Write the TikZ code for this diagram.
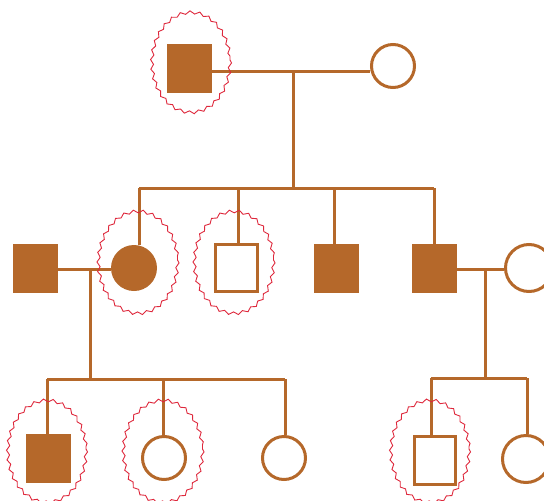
\documentclass[tikz,border=0pt]{standalone}
\usetikzlibrary{decorations.pathmorphing}
\definecolor{brn}{RGB}{181,104,42}
\definecolor{wav}{RGB}{222,40,60}
\begin{document}
\begin{tikzpicture}[x=1pt,y=-1pt,
  fsq/.style={rectangle,fill=brn,minimum width=45pt,minimum height=49pt,inner sep=0pt,outer sep=0pt},
  osq/.style={rectangle,draw=brn,line width=3pt,fill=white,minimum width=42pt,minimum height=47pt,inner sep=0pt,outer sep=1.5pt},
  fci/.style={circle,fill=brn,minimum size=46pt,inner sep=0pt,outer sep=0pt},
  oci/.style={circle,draw=brn,line width=3pt,fill=white,minimum size=43pt,inner sep=0pt,outer sep=1.5pt},
  oci2/.style={oci,minimum size=47pt},
  link/.style={draw=brn,line width=3pt},
  halo/.style={draw=wav,line width=0.9pt,decorate,decoration={snake,amplitude=1.5pt,segment length=9.5pt}}]
\useasboundingbox (0,0) rectangle (544,501);
\clip (0,0) rectangle (544,501);
% generation 1
\node[fsq] (a) at (189.5,68.5) {};
\node[oci] (b) at (393,66) {};
% generation 2
\node[fsq] (c) at (35,268.5) {};
\node[fci] (d) at (134,268) {};
\node[osq] (e) at (236.5,268) {};
\node[fsq] (f) at (336,268.5) {};
\node[fsq] (g) at (434.5,268) {};
\node[oci2] (h) at (529,268) {};
% generation 3
\node[fsq] (i) at (48.5,458) {};
\node[oci] (j) at (164,458) {};
\node[oci] (k) at (284,458) {};
\node[osq,minimum width=41pt,minimum height=48pt] (l) at (435,460.5) {};
\node[oci2] (m) at (526,459) {};
% junction coordinates
\coordinate (m1) at (293,71);
\coordinate (s1) at (293,188);
\coordinate (s1L) at (139,188);
\coordinate (s1R) at (434,188);
\coordinate (m2) at (90,269);
\coordinate (s2) at (90,379);
\coordinate (s2L) at (47,379);
\coordinate (s2M) at (163,379);
\coordinate (s2R) at (285,379);
\coordinate (m3) at (485,269);
\coordinate (s3) at (485,378);
\coordinate (s3L) at (431,378);
\coordinate (s3R) at (527,378);
% connectors
\path[link] (a.east |- m1) -- (b.west |- m1);
\path[link] (m1) -- (s1);
\path[link] (s1L) -- (s1R);
\path[link] (s1L) -- (s1L |- d.north);
\path[link] (238,188) -- (238,245);
\path[link] (334,188) -- (f.north -| 334,0);
\path[link] (s1R) -- (s1R |- g.north);
\path[link] (c.east |- m2) -- (d.west |- m2);
\path[link] (m2) -- (s2);
\path[link] (s2L) -- (s2R);
\path[link] (s2L) -- (s2L |- i.north);
\path[link] (s2M) -- (s2M |- j.north);
\path[link] (s2R) -- (s2R |- k.north);
\path[link] (g.east |- m3) -- (h.west |- m3);
\path[link] (m3) -- (s3);
\path[link] (s3L) -- (s3R);
\path[link] (s3L) -- (s3L |- l.north);
\path[link] (s3R) -- (s3R |- m.north);
% wavy halos
\draw[halo] (191,60) ellipse (39 and 50);
\draw[halo] (138,260) ellipse (39.5 and 51);
\draw[halo] (234,260) ellipse (39.5 and 51);
\draw[halo] (47,449) ellipse (39 and 51);
\draw[halo] (163,449) ellipse (39.5 and 51);
\draw[halo] (430,449) ellipse (39 and 51);
\end{tikzpicture}
\end{document}
